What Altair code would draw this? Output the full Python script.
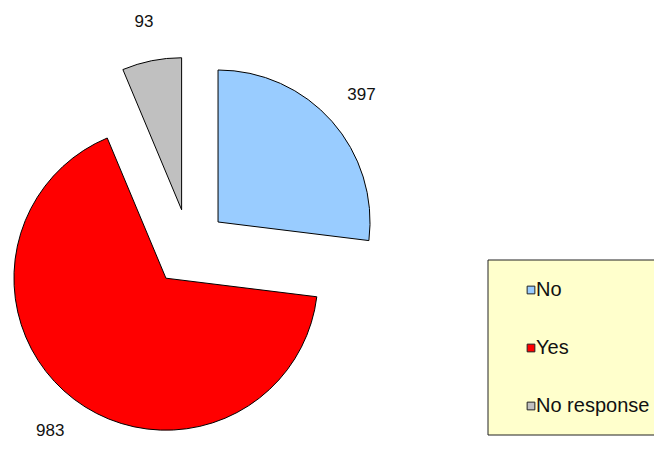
import altair as alt
import pandas as pd

# ---- data ----
categories = ["No", "Yes", "No response"]
counts = [397, 983, 93]
colors = ["#99CCFF", "#FF0000", "#C0C0C0"]

# ---- layout constants (chart pixel coords) ----
W, H = 646, 447
CX, CY = 181.2, 239.5      # pie centre before explosion
EXPLODE = 38.5             # explosion distance
R = 152                    # slice radius
LABEL_R = 230              # radius of value labels
FONT = "Liberation Sans"

df = pd.DataFrame({"category": categories, "value": counts})

base = alt.Chart(df).transform_window(
    idx="row_number()"
).transform_joinaggregate(
    total="sum(value)"
).transform_window(
    cum="sum(value)", frame=[None, 0]
).transform_calculate(
    t0="(datum.cum - datum.value) / datum.total * 2 * PI",
    t1="datum.cum / datum.total * 2 * PI",
).transform_calculate(
    mid="(datum.t0 + datum.t1) / 2"
).transform_calculate(
    cx=f"{CX} + {EXPLODE} * sin(datum.mid)",
    cy=f"{CY} - {EXPLODE} * cos(datum.mid)",
    lx=f"{CX} + {LABEL_R} * sin(datum.mid)",
    ly=f"{CY} - {LABEL_R} * cos(datum.mid)",
    legy=f"282 + 58 * (datum.idx - 1)",
)

color_scale = alt.Scale(domain=categories, range=colors)

slices = base.mark_arc(radius=R, stroke="black", strokeWidth=1).encode(
    theta=alt.Theta("t0:Q", scale=None, stack=None),
    theta2="t1:Q",
    x=alt.X("cx:Q", scale=None),
    y=alt.Y("cy:Q", scale=None),
    color=alt.Color("category:N", scale=color_scale, legend=None),
)

labels = base.mark_text(font=FONT, fontSize=17, color="#111111").encode(
    x=alt.X("lx:Q", scale=None),
    y=alt.Y("ly:Q", scale=None),
    text=alt.Text("value:Q"),
)

legend_bg = alt.Chart(pd.DataFrame({"k": [0]})).mark_rect(
    fill="#FFFFCC", stroke="#222222", strokeWidth=1, clip=True
).encode(
    x=alt.value(480), x2=alt.value(720), y=alt.value(252), y2=alt.value(427)
)

legend_sym = base.mark_square(size=60, stroke="#222222", strokeWidth=1, opacity=1).encode(
    x=alt.value(523),
    y=alt.Y("legy:Q", scale=None),
    color=alt.Color("category:N", scale=color_scale, legend=None),
)

legend_txt = base.mark_text(
    font=FONT, fontSize=20, align="left", baseline="middle", color="#111111", clip=True
).encode(
    x=alt.value(528),
    y=alt.Y("legy:Q", scale=None),
    text="category:N",
)

chart = alt.layer(slices, labels, legend_bg, legend_sym, legend_txt).properties(
    width=W, height=H, padding=0, autosize="none"
).configure_view(stroke=None)

chart.save("out.html", embed_options={"renderer": "svg", "actions": False})
